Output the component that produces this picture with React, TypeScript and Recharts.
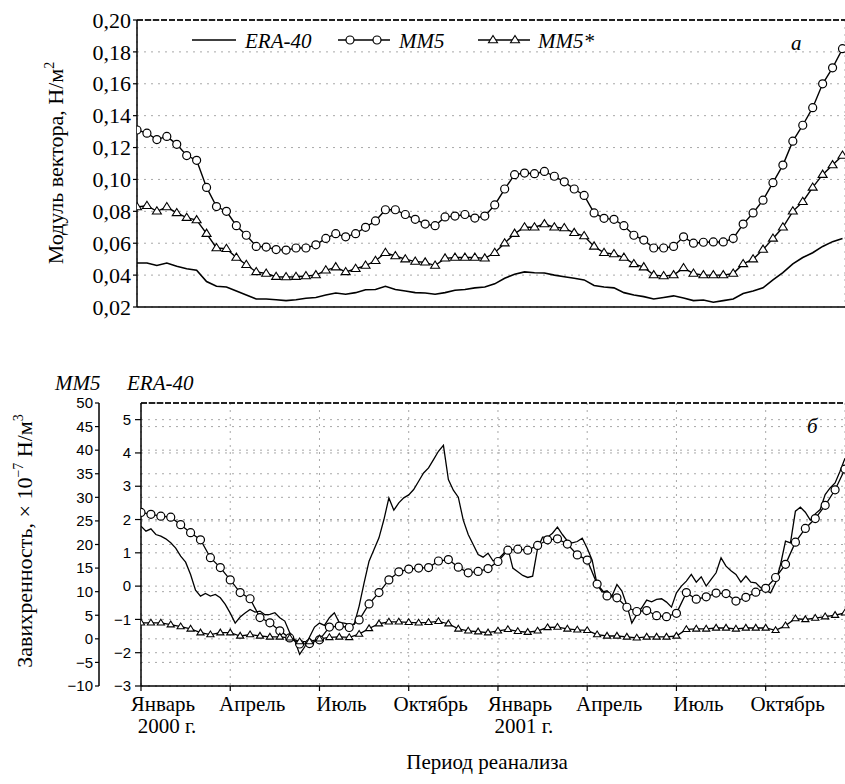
import React from 'react'
import { LineChart, Line, XAxis, YAxis, CartesianGrid, ReferenceLine, Legend } from 'recharts'

const SERIF = '"Liberation Serif", "Times New Roman", serif'
const SANS = '"Liberation Sans", Arial, sans-serif'

// quarter ticks, in months from January 2000
const QUARTER_TICKS = [0, 3, 6, 9, 12, 15, 18, 21]
const MONTH_LABELS = ['Январь', 'Апрель', 'Июль', 'Октябрь', 'Январь', 'Апрель', 'Июль', 'Октябрь']
const YEAR_LABELS = ['2000 г.', '', '', '', '2001 г.', '', '', '']

const TOP_TICKS = [0.02, 0.04, 0.06, 0.08, 0.1, 0.12, 0.14, 0.16, 0.18, 0.2]
const ERA_TICKS = [-3, -2, -1, 0, 1, 2, 3, 4, 5]
const MM5_TICKS = [-10, -5, 0, 5, 10, 15, 20, 25, 30, 35, 40, 45, 50]

// panel a: wind stress modulus, one value every 1/3 month
const eraTop = [
  0.0476, 0.0476, 0.046, 0.0476, 0.0455, 0.044, 0.043, 0.036, 0.033, 0.0325,
  0.03, 0.0275, 0.025, 0.025, 0.0245, 0.024, 0.0245, 0.0255, 0.026, 0.0275,
  0.0288, 0.028, 0.029, 0.0308, 0.031, 0.033, 0.031, 0.03, 0.029, 0.0288,
  0.028, 0.029, 0.0305, 0.031, 0.032, 0.0325, 0.0345, 0.038, 0.0405, 0.042,
  0.0415, 0.0413, 0.04, 0.039, 0.038, 0.037, 0.0335, 0.0325, 0.032, 0.029,
  0.0275, 0.0265, 0.025, 0.026, 0.027, 0.0257, 0.024, 0.0244, 0.023, 0.024,
  0.025, 0.0285, 0.03, 0.032, 0.037, 0.0415, 0.047, 0.051, 0.054, 0.058,
  0.061, 0.063,
]
const mm5Top = [
  0.131, 0.129, 0.125, 0.127, 0.122, 0.115, 0.112, 0.095, 0.083, 0.08,
  0.071, 0.065, 0.058, 0.0576, 0.056, 0.0557, 0.057, 0.057, 0.059, 0.063,
  0.066, 0.064, 0.066, 0.07, 0.074, 0.081, 0.081, 0.078, 0.075, 0.072,
  0.071, 0.0765, 0.077, 0.078, 0.0758, 0.077, 0.084, 0.094, 0.103, 0.104,
  0.1036, 0.105, 0.102, 0.0985, 0.094, 0.09, 0.079, 0.0756, 0.075, 0.071,
  0.065, 0.062, 0.057, 0.057, 0.058, 0.064, 0.06, 0.0606, 0.0608, 0.0608,
  0.063, 0.072, 0.079, 0.087, 0.098, 0.109, 0.124, 0.134, 0.145, 0.16,
  0.17, 0.182,
]
const mm5StarTop = [
  0.0827, 0.0835, 0.08, 0.0827, 0.079, 0.076, 0.0745, 0.066, 0.057, 0.0565,
  0.051, 0.0465, 0.042, 0.041, 0.039, 0.0388, 0.039, 0.0394, 0.04, 0.043,
  0.045, 0.042, 0.044, 0.046, 0.049, 0.054, 0.052, 0.05, 0.0485, 0.048,
  0.046, 0.0505, 0.051, 0.051, 0.051, 0.0505, 0.054, 0.06, 0.066, 0.07,
  0.07, 0.072, 0.07, 0.0695, 0.0665, 0.0645, 0.058, 0.054, 0.0532, 0.051,
  0.047, 0.045, 0.04, 0.0394, 0.04, 0.0445, 0.041, 0.04, 0.04, 0.04,
  0.041, 0.047, 0.05, 0.056, 0.063, 0.07, 0.08, 0.086, 0.095, 0.103,
  0.109, 0.115,
]

// panel б: curl, MM5 scale, one value every 1/3 month
const mm5Bottom = [
  26.8, 26.4, 26, 25.8, 24.2, 22.5, 21, 17.2, 15.1, 12.5,
  9.8, 8.5, 4.5, 3.4, 1.7, 0.2, -1.1, -1.0, -0.2, 2.5,
  2.7, 2.4, 4.0, 7.4, 9.8, 12.5, 14.2, 14.8, 15.0, 15.1,
  16.5, 16.8, 15.2, 14, 14.3, 14.9, 16.4, 18.8, 19, 18.8,
  19.8, 21, 21.2, 20.1, 17.8, 16.7, 11.6, 9.1, 8.7, 6.7,
  5.8, 6, 4.9, 4.7, 5.4, 9.8, 8.4, 8.9, 9.7, 9.6,
  8.0, 8.8, 9.9, 10.7, 13, 15.8, 20.5, 23.4, 25.5, 28.3,
  31.6, 36,
]
const mm5StarBottom = [
  3.4, 3.4, 3.4, 3.0, 2.6, 2.1, 1.3, 0.9, 1.3, 1.3,
  0.6, 0.9, 0.6, 0.4, 0.4, 0.2, -0.6, -0.6, 0, 0.3,
  0.4, 0.3, 1.0, 2.2, 3.2, 3.6, 3.6, 3.5, 3.4, 3.5,
  3.7, 3.2, 2.1, 1.7, 1.5, 1.3, 1.7, 2.0, 1.6, 1.4,
  1.7, 2.4, 2.5, 2.1, 1.9, 1.8, 0.9, 0.6, 0.6, 0.4,
  0.2, 0.4, 0.4, 0.4, 0.6, 2.0, 2.1, 2.1, 2.3, 2.3,
  2.1, 2.3, 2.3, 2.3, 1.8, 2.8, 4.3, 4.1, 4.4, 4.7,
  5.0, 5.5,
]
// ERA-40 curl, its own scale, one value every 1/6 month
const eraBottom = [
  1.8, 1.65, 1.72, 1.55, 1.5, 1.42, 1.3, 1.14, 0.9, 0.72,
  0.35, -0.12, -0.3, -0.22, -0.3, -0.25, -0.35, -0.55, -0.81, -1.11,
  -0.93, -0.81, -0.7, -0.78, -0.75, -0.86, -0.85, -0.8, -0.95, -1.05,
  -1.4, -1.62, -2.05, -1.83, -1.53, -1.23, -1.11, -1.18, -0.95, -0.8,
  -1.1, -1.11, -1.15, -1.15, -0.6, 0.1, 0.75, 1.1, 1.45, 2.0,
  2.65, 2.28, 2.5, 2.65, 2.74, 2.9, 3.15, 3.4, 3.55, 3.8,
  4.05, 4.23, 3.2, 2.88, 2.67, 1.98, 1.55, 1.25, 0.95, 0.87,
  0.99, 0.76, 0.8, 0.96, 1.14, 0.54, 0.43, 0.32, 0.26, 0.3,
  1.14, 1.47, 1.47, 1.59, 1.77, 1.55, 1.36, 1.3, 1.34, 1.44,
  1.14, 0.78, 0.05, -0.18, -0.14, -0.3, 0.05, -0.15, -0.58, -1.11,
  -0.85, -0.65, -0.42, -0.47, -0.4, -0.38, -0.48, -0.63, -0.2, 0.0,
  0.15, 0.35, 0.12, 0.28, 0.0, 0.2, 0.4, 0.85, 0.6, 0.46,
  0.35, 0.12, 0.3, 0.12, 0.1, -0.05, -0.13, -0.2, 0.1, 0.65,
  1.35, 1.3, 2.25, 2.37, 2.22, 1.98, 2.17, 2.3, 2.75, 2.95,
  3.1, 3.45, 3.84,
]

const topRows = eraTop.map((v, i) => ({ m: i / 3, era: v, mm5: mm5Top[i], mm5s: mm5StarTop[i] }))
const bottomRows = mm5Bottom.map((v, i) => ({ m: i / 3, mm5: v, mm5s: mm5StarBottom[i] }))
const eraBottomRows = eraBottom.map((v, i) => ({ m: i / 6, v }))

const comma = (v: number) => v.toFixed(2).replace('.', ',')
const minus = (v: number) => String(v).replace('-', '\u2212')

const gridStyle = { stroke: '#a8a8a8', strokeDasharray: '2 5' }
const axisLine = { stroke: '#000', strokeWidth: 1.5 }
const tickLine = { stroke: '#000', strokeWidth: 1.2 }

function circleDot(r: number) {
  return (p: any) => {
    if (p.cx == null || p.cy == null) return <g key={`c${p.index}`} />
    return <circle key={`c${p.index}`} cx={p.cx} cy={p.cy} r={r} fill="#fff" stroke="#000" strokeWidth={1.2} />
  }
}

function triangleDot(s: number) {
  return (p: any) => {
    if (p.cx == null || p.cy == null) return <g key={`t${p.index}`} />
    const { cx, cy } = p
    return (
      <path
        key={`t${p.index}`}
        d={`M${cx},${cy - s} L${cx + s},${cy + s * 0.6} L${cx - s},${cy + s * 0.6} Z`}
        fill="#fff"
        stroke="#000"
        strokeWidth={1.1}
      />
    )
  }
}

// y tick label, right aligned against the tick
function yTick(font: string, size: number, fmt: (v: number) => string) {
  return (p: any) => (
    <text x={p.x} y={p.y} dy="0.35em" textAnchor="end" fontFamily={font} fontSize={size} fill="#000">
      {fmt(p.payload.value)}
    </text>
  )
}

function MonthTick(props: any) {
  const { x, y, payload } = props
  const i = QUARTER_TICKS.indexOf(payload.value)
  return (
    <g fontFamily={SERIF} fontSize={21} fill="#000">
      <text x={x + 22} y={y + 18} textAnchor="middle">{MONTH_LABELS[i]}</text>
      {YEAR_LABELS[i] && <text x={x + 26} y={y + 40} textAnchor="middle">{YEAR_LABELS[i]}</text>}
    </g>
  )
}

const topTitle = () => (
  <text transform="translate(63,163) rotate(-90)" textAnchor="middle" fontFamily={SERIF} fontSize={22} fill="#000">
    Модуль вектора, Н/м<tspan dy={-9} fontSize={14}>2</tspan>
  </text>
)

const bottomTitle = () => (
  <text transform="translate(32,181) rotate(-90)" textAnchor="middle" fontFamily={SERIF} fontSize={22} fill="#000">
    Завихренность, × 10<tspan dy={-9} fontSize={14}>−7</tspan>
    <tspan dy={9}> Н/м</tspan>
    <tspan dy={-9} fontSize={14}>3</tspan>
  </text>
)

const xTitle = () => (
  <text x={487} y={409} textAnchor="middle" fontFamily={SERIF} fontSize={21} fill="#000">
    Период реанализа
  </text>
)

function TopLegend() {
  const txt = { fontFamily: SERIF, fontSize: 21, fontStyle: 'italic' as const, fill: '#000' }
  const circ = circleDot(4)
  const tri = triangleDot(4.5)
  return (
    <svg width={845} height={60} style={{ display: 'block' }}>
      <line x1={192} y1={40} x2={236} y2={40} stroke="#000" strokeWidth={1.6} />
      <text x={245} y={48} {...txt}>ERA-40</text>
      <line x1={338} y1={40} x2={390} y2={40} stroke="#000" strokeWidth={1.4} />
      {circ({ cx: 350, cy: 40, index: 'l1' })}
      {circ({ cx: 377, cy: 40, index: 'l2' })}
      <text x={399} y={48} {...txt}>MM5</text>
      <line x1={478} y1={40} x2={530} y2={40} stroke="#000" strokeWidth={1.4} />
      {tri({ cx: 493, cy: 40, index: 'l3' })}
      {tri({ cx: 515, cy: 40, index: 'l4' })}
      <text x={538} y={48} {...txt}>MM5*</text>
      <text x={791} y={50} {...txt}>а</text>
    </svg>
  )
}

function BottomLegend() {
  const txt = { fontFamily: SERIF, fontSize: 21, fontStyle: 'italic' as const, fill: '#000' }
  return (
    <svg width={845} height={90} style={{ display: 'block' }}>
      <text x={55} y={30} {...txt}>MM5</text>
      <text x={127} y={30} {...txt}>ERA-40</text>
      <text x={807} y={73} {...txt}>б</text>
    </svg>
  )
}

export default function App() {
  return (
    <div style={{ position: 'absolute', left: 0, top: 0, width: 845, height: 784, background: '#fff' }}>
      {/* panel a */}
      <div style={{ position: 'absolute', left: 0, top: 0 }}>
        <LineChart width={845} height={330} data={topRows} margin={{ top: 20, right: 0, bottom: 0, left: 0 }}>
          <CartesianGrid {...gridStyle} />
          <XAxis
            type="number"
            dataKey="m"
            domain={[0, 23.75]}
            ticks={QUARTER_TICKS}
            allowDataOverflow
            tick={false}
            tickSize={5}
            height={23}
            axisLine={axisLine}
            tickLine={tickLine}
          />
          <YAxis
            type="number"
            domain={[0.02, 0.2]}
            ticks={TOP_TICKS}
            width={137}
            tickSize={4}
            tickMargin={2}
            tick={yTick(SERIF, 22, comma)}
            axisLine={axisLine}
            tickLine={tickLine}
            label={topTitle}
          />
          <ReferenceLine y={0.2} stroke="#222" strokeWidth={2} strokeDasharray="6 2" />
          <Line type="linear" dataKey="era" stroke="#000" strokeWidth={1.6} dot={false} isAnimationActive={false} />
          <Line type="linear" dataKey="mm5" stroke="#000" strokeWidth={1.4} dot={circleDot(4)} isAnimationActive={false} />
          <Line type="linear" dataKey="mm5s" stroke="#000" strokeWidth={1.4} dot={triangleDot(4.5)} isAnimationActive={false} />
          <Legend
            layout="horizontal"
            verticalAlign="middle"
            align="center"
            wrapperStyle={{ position: 'absolute', left: 0, top: 0, width: 845, height: 60 }}
            content={() => <TopLegend />}
          />
        </LineChart>
      </div>

      {/* panel б */}
      <div style={{ position: 'absolute', left: 0, top: 360 }}>
        <LineChart width={845} height={424} data={bottomRows} margin={{ top: 43, right: 0, bottom: 0, left: 0 }}>
          <CartesianGrid yAxisId="era" {...gridStyle} />
          <CartesianGrid yAxisId="mm5" vertical={false} {...gridStyle} />
          <XAxis
            type="number"
            dataKey="m"
            domain={[0, 71 / 3]}
            ticks={QUARTER_TICKS}
            allowDataOverflow
            interval={0}
            tick={<MonthTick />}
            tickSize={5}
            height={98}
            axisLine={axisLine}
            tickLine={tickLine}
            label={xTitle}
          />
          <YAxis
            yAxisId="era"
            type="number"
            domain={[-3, 5.5]}
            ticks={ERA_TICKS}
            width={42}
            tickSize={6}
            tickMargin={4}
            tick={yTick(SANS, 15, minus)}
            axisLine={axisLine}
            tickLine={tickLine}
          />
          <YAxis
            yAxisId="mm5"
            type="number"
            domain={[-10, 50]}
            ticks={MM5_TICKS}
            width={99}
            tickSize={4}
            tickMargin={2}
            tick={yTick(SANS, 15, minus)}
            axisLine={axisLine}
            tickLine={tickLine}
            label={bottomTitle}
          />
          <ReferenceLine yAxisId="era" y={5.5} stroke="#222" strokeWidth={2} strokeDasharray="6 2" />
          <Line yAxisId="era" data={eraBottomRows} type="linear" dataKey="v" stroke="#000" strokeWidth={1.3} dot={false} isAnimationActive={false} />
          <Line yAxisId="mm5" type="linear" dataKey="mm5" stroke="#000" strokeWidth={1.3} dot={circleDot(4)} isAnimationActive={false} />
          <Line yAxisId="mm5" type="linear" dataKey="mm5s" stroke="#000" strokeWidth={1.3} dot={triangleDot(3.6)} isAnimationActive={false} />
          <Legend
            layout="horizontal"
            verticalAlign="middle"
            align="center"
            wrapperStyle={{ position: 'absolute', left: 0, top: 0, width: 845, height: 90 }}
            content={() => <BottomLegend />}
          />
        </LineChart>
      </div>
    </div>
  )
}
